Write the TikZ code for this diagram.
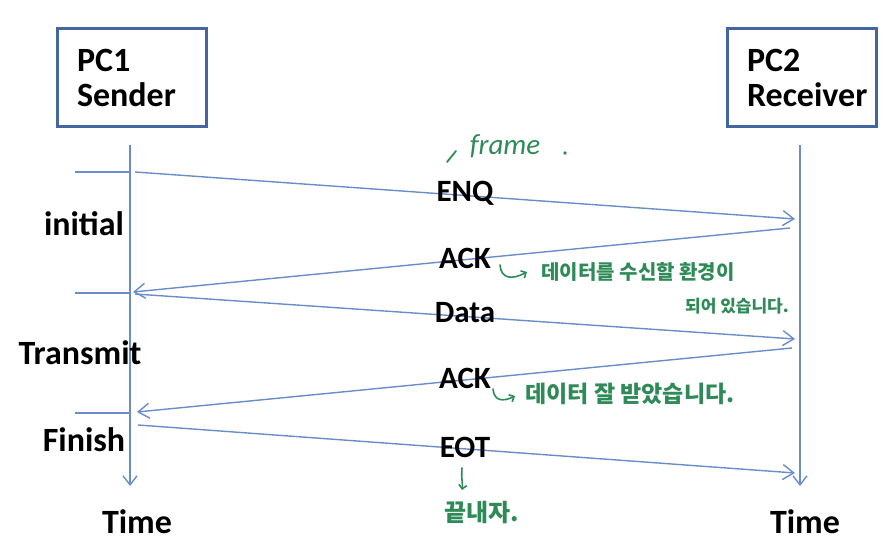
\documentclass[tikz,border=0pt]{standalone}
\usepackage{fontspec}
\setmainfont{Carlito}
\newfontfamily\cjk{Noto Sans CJK KR}
\definecolor{PCborder}{HTML}{44669E}
\definecolor{MSGblue}{HTML}{6A8CCB}
\definecolor{NOTEgreen}{HTML}{2E8B57}
\usetikzlibrary{arrows.meta, positioning}

\begin{document}
\begin{tikzpicture}[x=1pt, y=-1pt,
      pcbox/.style={draw=PCborder, line width=3pt, inner xsep=20pt,
         text width=109pt, minimum height=98pt, align=left,
         font=\fontsize{34}{35}\selectfont\bfseries},
      lbl/.style={font=\fontsize{34}{36}\selectfont\bfseries},
      msglbl/.style={font=\fontsize{31}{33}\selectfont\bfseries},
      lifeline/.style={MSGblue, line width=1.4pt, -{Straight Barb[length=9pt, width=14pt]}},
      msg/.style={MSGblue, line width=1.4pt, -{Straight Barb[length=11pt, width=15pt]}},
      tick/.style={MSGblue, line width=1.4pt},
      note/.style={NOTEgreen},
      noteline/.style={NOTEgreen, line width=1.6pt, line cap=round, -{Straight Barb[length=4pt, width=8pt]}}]
      \useasboundingbox (0,0) rectangle (892,545);
      % PCs
      \node[pcbox] (pc1) at (131.5,78) {PC1\\Sender};
      \node[pcbox] (pc2) at (801.5,78) {PC2\\Receiver};
      % lifelines
      \coordinate (pc1top) at (130,145);
      \coordinate (pc1end) at (130,486);
      \coordinate (pc2top) at (800,145);
      \coordinate (pc2end) at (800,486);
      \draw[lifeline] (pc1top) -- (pc1end);
      \draw[lifeline] (pc2top) -- (pc2end);
      \node[lbl] (time1) at (137,522) {Time};
      \node[lbl] (time2) at (805,522) {Time};
      % phase marks
      \coordinate (m1a) at (75,172);  \coordinate (m1b) at (130,172);
      \coordinate (m2a) at (75,293);  \coordinate (m2b) at (130,293);
      \coordinate (m3a) at (75,413);  \coordinate (m3b) at (130,413);
      \draw[tick] (m1a) -- (m1b);
      \draw[tick] (m2a) -- (m2b);
      \draw[tick] (m3a) -- (m3b);
      \node[lbl] (initial) at (84,224) {initial};
      \node[lbl] (transmit) at (80,353) {Transmit};
      \node[lbl] (finish) at (84,440) {Finish};
      % messages
      \coordinate (enqS) at (135,172);  \coordinate (enqE) at (795,219);
      \coordinate (ack1S) at (790,228); \coordinate (ack1E) at (133,292);
      \coordinate (dataS) at (135,294); \coordinate (dataE) at (795,339);
      \coordinate (ack2S) at (792,348); \coordinate (ack2E) at (137,412);
      \coordinate (eotS) at (138,425);  \coordinate (eotE) at (795,473);
      \draw[msg] (enqS) -- (enqE);
      \draw[msg] (ack1S) -- (ack1E);
      \draw[msg] (dataS) -- (dataE);
      \draw[msg] (ack2S) -- (ack2E);
      \draw[msg] (eotS) -- (eotE);
      \node[msglbl] (enq) at (465,193) {ENQ};
      \node[msglbl] (ack1) at (465,258) {ACK};
      \node[msglbl] (data) at (465,313) {Data};
      \node[msglbl] (ack2) at (465,378) {ACK};
      \node[msglbl] (eot) at (465,447) {EOT};
      % notes
      \node[NOTEgreen, font=\fontsize{29}{30}\selectfont\itshape] (frame) at (505,146) {frame};
      \draw[NOTEgreen, line width=1.8pt, line cap=round] (447,162) -- (456,151);
      \fill[NOTEgreen] (565,153) circle (1.8pt);
      \draw[noteline] (500,265) .. controls (501,279) and (512,280) .. (527,272);
      \node[note, font=\cjk\bfseries\fontsize{20}{22}\selectfont] (n1a) at (638,272) {데이터를 수신할 환경이};
      \node[note, font=\cjk\bfseries\fontsize{17}{18}\selectfont] (n1b) at (737,306) {되어 있습니다.};
      \draw[noteline] (493,389) .. controls (494,401) and (503,402) .. (515,396);
      \node[note, font=\cjk\bfseries\fontsize{23}{25}\selectfont] (n2) at (630,394) {데이터 잘 받았습니다.};
      \draw[noteline] (462,468) .. controls (461,478) and (463,484) .. (462,490);
      \node[note, font=\cjk\bfseries\fontsize{24}{26}\selectfont] (n3) at (482,513) {끝내자.};
\end{tikzpicture}
\end{document}
